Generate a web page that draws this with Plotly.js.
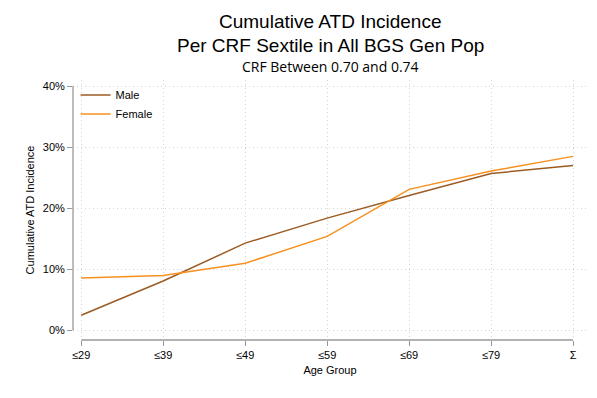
<!DOCTYPE html>
<html>
<head>
<meta charset="utf-8">
<script src="https://cdn.plot.ly/plotly-3.0.1.min.js"></script>
<style>html,body{margin:0;padding:0;background:#fff;}#chart{width:597px;height:398px;}</style>
</head>
<body>
<div id="chart"></div>
<script>
const ageGroups = ["≤29", "≤39", "≤49", "≤59", "≤69", "≤79", "Σ"];
const maleValues = [0.025, 0.081, 0.143, 0.184, 0.221, 0.257, 0.270];
const femaleValues = [0.086, 0.090, 0.110, 0.154, 0.231, 0.261, 0.285];
const yTickValues = [0, 0.1, 0.2, 0.3, 0.4];
const titleLines = ["Cumulative ATD Incidence", "Per CRF Sextile in All BGS Gen Pop"];
const subtitleText = "CRF Between 0.70 and 0.74";

const font = "Liberation Sans, Arial, sans-serif";
const axisColor = "#999999";
const gridColor = "#d4d4d4";
const plotTop = 80, plotBottom = 340;
const py = px => (plotBottom - px) / (plotBottom - plotTop);

const traces = [
  {x: ageGroups, y: maleValues, name: "Male", type: "scatter", mode: "lines",
   line: {color: "#9c5b23", width: 1.5}},
  {x: ageGroups, y: femaleValues, name: "Female", type: "scatter", mode: "lines",
   line: {color: "#f7901e", width: 1.5}}
];

const layout = {
  width: 597, height: 398,
  margin: {l: 73, r: 10, t: plotTop, b: 398 - plotBottom},
  paper_bgcolor: "#fff", plot_bgcolor: "#fff",
  font: {family: font, size: 11, color: "#000"},
  annotations: [
    {text: titleLines[0], xref: "paper", yref: "paper", x: 0.5, y: py(22), yanchor: "middle",
     showarrow: false, font: {family: font, size: 19, color: "#000"}},
    {text: titleLines[1], xref: "paper", yref: "paper", x: 0.5, y: py(45), yanchor: "middle",
     showarrow: false, font: {family: font, size: 19, color: "#000"}},
    {text: subtitleText, xref: "paper", yref: "paper", x: 0.5, y: py(66), yanchor: "middle",
     showarrow: false, font: {family: "Open Sans, sans-serif", size: 14, color: "#000"}}
  ],
  xaxis: {
    type: "category", range: [-0.1, 6.17],
    showgrid: true, gridcolor: gridColor, griddash: "1px,3px", gridwidth: 1,
    showline: false, zeroline: false,
    ticks: "outside", ticklen: 5, tickcolor: axisColor, tickwidth: 1,
    tickfont: {family: font, size: 11},
    title: {text: "Age Group", font: {family: font, size: 11}, standoff: 6}
  },
  yaxis: {
    range: [-0.0155, 0.41],
    tickvals: yTickValues, tickformat: ".0%",
    showgrid: true, gridcolor: gridColor, griddash: "1px,3px", gridwidth: 1,
    showline: false, zeroline: false,
    ticks: "outside", ticklen: 5, tickcolor: axisColor, tickwidth: 1,
    tickfont: {family: font, size: 11},
    title: {text: "Cumulative ATD Incidence", font: {family: font, size: 11}, standoff: 5}
  },
  shapes: [
    {type: "line", xref: "paper", yref: "y", x0: 0, x1: 0,
     y0: yTickValues[0], y1: yTickValues[yTickValues.length - 1],
     line: {color: axisColor, width: 1.3}},
    {type: "line", xref: "x", yref: "paper", x0: 0, x1: ageGroups.length - 1,
     y0: 0, y1: 0, line: {color: axisColor, width: 1.3}}
  ],
  showlegend: true,
  legend: {x: 0.005, y: 0.998, xanchor: "left", yanchor: "top",
    bgcolor: "rgba(255,255,255,0)", font: {family: font, size: 11}, tracegroupgap: 0}
};

Plotly.newPlot("chart", traces, layout, {displayModeBar: false, staticPlot: true});
</script>
</body>
</html>
